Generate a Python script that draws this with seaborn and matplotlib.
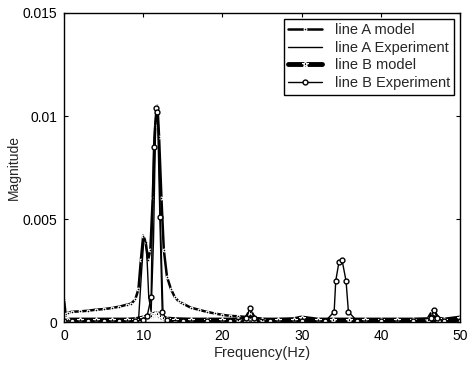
import matplotlib
matplotlib.use("Agg")
import matplotlib.pyplot as plt
import seaborn as sns

# ---- data ----
freq_a_model = [0, 0.2, 0.5, 1, 2, 3, 4, 5, 6, 7, 8, 8.5, 9, 9.4, 9.7, 10, 10.3, 10.6,
                10.9, 11.2, 11.5, 11.8, 12.0, 12.3, 12.6, 13, 13.5, 14, 14.5, 15, 16, 17,
                18, 19, 20, 21, 22, 23, 24, 25, 27, 30, 35, 40, 45, 50]
mag_a_model = [0.0011, 0.0004, 0.00045, 0.0005, 0.00052, 0.00055, 0.0006, 0.00063,
               0.00068, 0.00075, 0.00085, 0.0009, 0.0011, 0.0016, 0.003, 0.0042, 0.0039,
               0.003, 0.0035, 0.006, 0.0095, 0.0105, 0.009, 0.006, 0.0035, 0.0022, 0.0016,
               0.0012, 0.001, 0.0009, 0.0007, 0.0006, 0.0005, 0.00042, 0.00035, 0.0003,
               0.00028, 0.00025, 0.0002, 0.00015, 0.0001, 0.00008, 0.00006, 0.00005,
               0.00004, 0.00004]

freq_a_exp = [0, 9.4, 9.8, 10.1, 10.4, 10.7, 11.0, 11.3, 11.6, 11.9, 12.2, 12.5, 12.8,
              20, 30, 40, 50]
mag_a_exp = [0.00005, 0.00005, 0.0025, 0.0041, 0.0038, 0.0012, 0.0005, 0.004, 0.0103,
             0.0098, 0.0045, 0.0004, 0.00005, 0.00005, 0.00005, 0.00005, 0.00005]

freq_b_model = [0, 0.5, 2, 4, 6, 8, 9, 10, 10.5, 11, 11.5, 11.8, 12.1, 12.5, 13, 14, 16,
                18, 20, 22, 23, 23.5, 24, 25, 27, 29, 30, 32, 34, 36, 38, 40, 42, 44, 46,
                46.6, 47.2, 48, 50]
mag_b_model = [0.0002, 0.0001, 0.0001, 0.0001, 0.0001, 0.0001, 0.00012, 0.0002, 0.00025,
               0.0003, 0.0004, 0.0004, 0.0003, 0.0002, 0.00015, 0.00012, 0.0001, 0.0001,
               0.0001, 0.0001, 0.00015, 0.0005, 0.00015, 0.0001, 0.0001, 0.00012, 0.0002,
               0.0001, 0.0001, 0.0001, 0.0001, 0.0001, 0.0001, 0.0001, 0.00012, 0.0005,
               0.00015, 0.0001, 0.0002]

freq_b_exp = [0, 1, 3, 5, 7, 9, 10, 10.5, 11, 11.3, 11.6, 11.8, 12.1, 12.4, 13, 15, 18,
              21, 23, 23.5, 24, 26, 30, 33, 34.1, 34.3, 34.7, 35.1, 35.6, 35.9, 37, 40,
              44, 46.3, 46.7, 47.1, 48, 50]
mag_b_exp = [0.00005, 0.00005, 0.00005, 0.00005, 0.00005, 0.00005, 0.0001, 0.0003,
             0.0012, 0.0085, 0.0104, 0.0102, 0.0051, 0.0005, 0.00008, 0.00005, 0.00005,
             0.00005, 0.0002, 0.0007, 0.0002, 0.00005, 0.00005, 0.00005, 0.0005, 0.002,
             0.0029, 0.003, 0.002, 0.0005, 0.00005, 0.00005, 0.00005, 0.0002, 0.0006,
             0.0002, 0.00005, 0.00005]

x_ticks = [0, 10, 20, 30, 40, 50]
y_ticks = [0, 0.005, 0.01, 0.015]
y_tick_labels = ["0", "0.005", "0.01", "0.015"]

sns.set_style("white")
plt.rcParams["font.family"] = ["Liberation Sans", "DejaVu Sans"]

fig = plt.figure(figsize=(4.75, 3.66), dpi=100)
ax = fig.add_axes([0.1347, 0.12, 0.834, 0.8445])

sns.lineplot(x=freq_a_model, y=mag_a_model, ax=ax, color="black", lw=1.8,
             marker=".", markersize=4, markeredgewidth=0.8, label="line A model",
             sort=False, estimator=None)
sns.lineplot(x=freq_a_exp, y=mag_a_exp, ax=ax, color="black", lw=1.0,
             label="line A Experiment", sort=False, estimator=None)
sns.lineplot(x=freq_b_model, y=mag_b_model, ax=ax, color="black", lw=3.5,
             marker="*", markersize=5, markeredgewidth=0.8, label="line B model",
             sort=False, estimator=None)
sns.lineplot(x=freq_b_exp, y=mag_b_exp, ax=ax, color="black", lw=1.0,
             marker="o", markersize=3.5, markerfacecolor="white", markeredgecolor="black",
             markeredgewidth=1.0, label="line B Experiment", sort=False, estimator=None)

ax.set_xlim(0, 50)
ax.set_ylim(0, 0.015)
ax.set_xticks(x_ticks)
ax.set_xticklabels([str(t) for t in x_ticks])
ax.set_yticks(y_ticks)
ax.set_yticklabels(y_tick_labels)
ax.tick_params(direction="in", length=3, labelsize=10, colors="black", pad=5,
               top=True, right=True, bottom=True, left=True)
for s in ax.spines.values():
    s.set_visible(True)
    s.set_color("black")
    s.set_linewidth(1.0)

ax.set_xlabel("Frequency(Hz)", fontsize=10.5, labelpad=2)
ax.set_ylabel("Magnitude", fontsize=10, labelpad=1)

leg = ax.legend(loc="upper right", fontsize=10.5, frameon=True, fancybox=False,
                edgecolor="black", framealpha=1, handlelength=2.3,
                borderaxespad=0.4, labelspacing=0.25, handletextpad=0.9,
                borderpad=0.3)
leg.get_frame().set_linewidth(1.0)

fig.savefig("out.png", dpi=100)
